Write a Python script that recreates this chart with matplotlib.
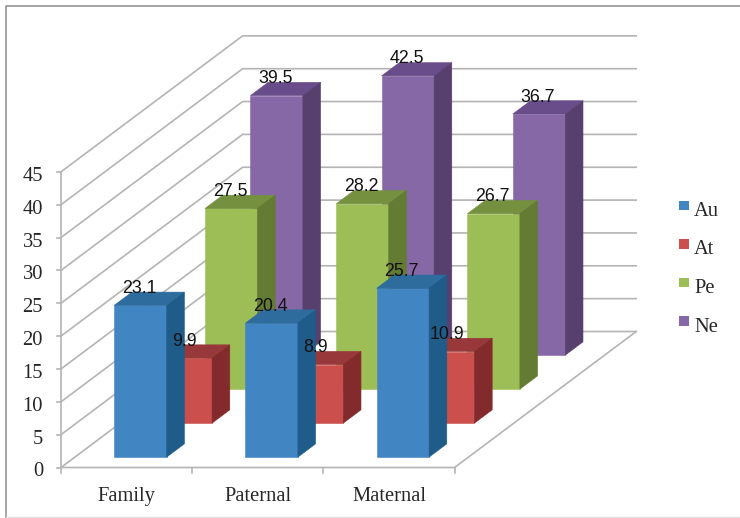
import matplotlib
matplotlib.use('Agg')
import matplotlib.pyplot as plt
from matplotlib.patches import Polygon, Rectangle

#values
categories = ['Family', 'Paternal', 'Maternal']
series_names = ['Au', 'At', 'Pe', 'Ne']
au = [23.1, 20.4, 25.7]
at = [9.9, 8.9, 10.9]
pe = [27.5, 28.2, 26.7]
ne = [39.5, 42.5, 36.7]
all_series = [au, at, pe, ne]
value_ticks = [0, 5, 10, 15, 20, 25, 30, 35, 40, 45]

#front, top, side
colours = [('#4285c3', '#2e6c9e', '#1f5c8a'),
           ('#cb4f4d', '#98383a', '#832a2c'),
           ('#9dbe57', '#759140', '#647b33'),
           ('#8668a6', '#694c8a', '#573f6e')]

#oblique projection of the excel style box, in pixels
x0, y0 = 61, 467.5
cat_w = 131.2
val_h = 6.57
depth_x, depth_y = 45.4, 34.0
grid_col = '#b4b4b4'
serif_size = 14.8

def proj(cat, depth, val):
    return (x0 + cat*cat_w + depth*depth_x, y0 - val*val_h - depth*depth_y)

fig = plt.figure(figsize=(7.4, 5.18), dpi=100)
ax = fig.add_axes([0, 0, 1, 1])
ax.set_xlim(0, 740)
ax.set_ylim(518, 0)
ax.axis('off')

#picture frame
ax.plot([5.7, 5.7, 740], [518, 6.3, 6.3], color='#8c8c8c', lw=1.1)
ax.plot([5.7, 740], [516.5, 516.5], color='#e4e4e4', lw=1)

ncat = len(categories)
nser = len(series_names)

#walls
for v in value_ticks:
    xs, ys = zip(proj(0, 0, v), proj(0, nser, v), proj(ncat, nser, v))
    ax.plot(xs, ys, color=grid_col, lw=1.2, solid_joinstyle='miter')
    tx, ty = proj(0, 0, v)
    ax.plot([tx-4, tx], [ty, ty], color=grid_col, lw=1.2)
    ax.text(tx-18, ty+4.5, str(v), ha='right', va='center', fontsize=serif_size,
            family='Liberation Serif', color='#262626')

#axis and floor
ax.plot(*zip(proj(0, 0, 0), proj(0, 0, 45)), color=grid_col, lw=1.2)
ax.plot(*zip(proj(0, 0, 0), proj(ncat, 0, 0), proj(ncat, nser, 0)), color=grid_col, lw=1.2)
for c in range(ncat+1):
    tx, ty = proj(c, 0, 0)
    ax.plot([tx, tx], [ty, ty+5], color=grid_col, lw=1.2)
for c, name in enumerate(categories):
    tx, ty = proj(c+0.5, 0, 0)
    ax.text(tx, ty+29, name, ha='center', va='center', fontsize=serif_size,
            family='Liberation Serif', color='#262626')

#bars, back series first
bar_w = 0.40
bar_d = 0.39
for s in range(nser-1, -1, -1):
    front, top, side = colours[s]
    for c in range(ncat):
        v = all_series[s][c]
        l = c + (1-bar_w)/2
        r = l + bar_w
        d1 = s + (1-bar_d)/2
        d2 = d1 + bar_d
        ax.add_patch(Polygon([proj(l, d1, 0), proj(r, d1, 0), proj(r, d1, v), proj(l, d1, v)],
                             fc=front, ec=front, lw=0.4, zorder=3+(nser-s)))
        ax.add_patch(Polygon([proj(l, d1, v), proj(r, d1, v), proj(r, d2, v), proj(l, d2, v)],
                             fc=top, ec=top, lw=0.4, zorder=3+(nser-s)))
        ax.add_patch(Polygon([proj(r, d1, 0), proj(r, d2, 0), proj(r, d2, v), proj(r, d1, v)],
                             fc=side, ec=side, lw=0.4, zorder=3+(nser-s)))

#data labels sit on top of everything
for s in range(nser):
    for c in range(ncat):
        v = all_series[s][c]
        d1 = s + (1-bar_d)/2
        tx, ty = proj(c+0.5, d1, v)
        ax.text(tx-1, ty-17, str(v), ha='center', va='center', fontsize=12.8,
                family='Liberation Sans', color='#111111', zorder=20)

#legend
for s, name in enumerate(series_names):
    y = 205.5 + s*38.5
    ax.add_patch(Rectangle((679, y-4.8), 10, 9.6, fc=colours[s][0], ec='none'))
    ax.text(694, y+6, name, ha='left', va='center', fontsize=serif_size,
            family='Liberation Serif', color='#262626')

fig.savefig('out.png', dpi=100)
